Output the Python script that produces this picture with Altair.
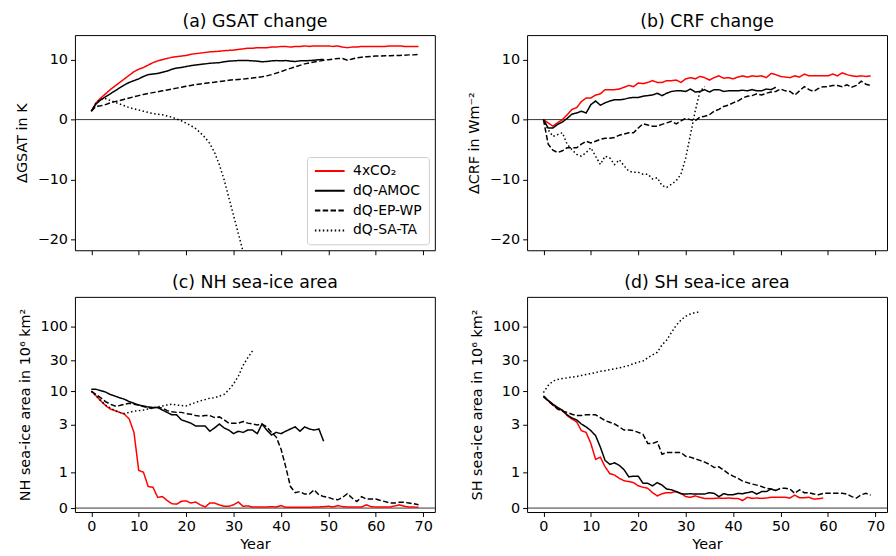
import math
import altair as alt
import pandas as pd

SERIES = ["4xCO₂", "dQ-AMOC", "dQ-EP-WP", "dQ-SA-TA"]

# ---------------- (a) GSAT change (K) ----------------
gsat_co2 = [1.4, 2.8, 3.6, 4.3, 5.0, 5.6, 6.2, 6.8, 7.4, 8.0, 8.4, 8.7, 9.1, 9.5, 9.8, 10.0, 10.2, 10.4, 10.5, 10.6,
            10.7, 10.9, 11.0, 11.1, 11.2, 11.3, 11.35, 11.4, 11.5, 11.55, 11.6, 11.7, 11.8, 11.9, 11.9, 12.0, 12.0, 12.0, 12.1, 12.1,
            12.2, 12.2, 12.1, 12.2, 12.2, 12.3, 12.2, 12.3, 12.3, 12.3, 12.3, 12.2, 12.3, 12.1, 12.0, 12.1, 12.1, 12.2, 12.2, 12.2,
            12.2, 12.2, 12.2, 12.3, 12.3, 12.3, 12.2, 12.2, 12.2, 12.2]
gsat_amoc = [1.4, 2.6, 3.3, 3.8, 4.3, 4.8, 5.3, 5.8, 6.2, 6.5, 6.8, 7.2, 7.5, 7.6, 7.7, 7.9, 8.1, 8.4, 8.6, 8.7,
             8.85, 9.0, 9.1, 9.2, 9.3, 9.4, 9.45, 9.5, 9.65, 9.75, 9.8, 9.85, 9.85, 9.85, 9.8, 9.75, 9.65, 9.7, 9.8, 9.85,
             9.8, 9.85, 9.75, 9.7, 9.8, 9.8, 9.85, 9.9, 10.0, 10.05]
gsat_epwp = [1.4, 2.2, 2.3, 2.5, 2.8, 3.0, 3.2, 3.4, 3.6, 3.8, 4.0, 4.2, 4.35, 4.5, 4.65, 4.8, 4.95, 5.1, 5.25, 5.4,
             5.55, 5.7, 5.85, 5.95, 6.05, 6.15, 6.25, 6.35, 6.45, 6.55, 6.65, 6.7, 6.75, 6.85, 6.95, 7.05, 7.15, 7.3, 7.5, 7.75,
             8.0, 8.3, 8.55, 8.8, 9.05, 9.3, 9.45, 9.6, 9.75, 9.9, 10.0, 10.1, 10.2, 10.2, 9.9, 10.1, 10.3, 10.4, 10.5, 10.55,
             10.6, 10.6, 10.65, 10.65, 10.7, 10.7, 10.75, 10.8, 10.8, 10.9]
gsat_sata = [1.4, 2.8, 3.4, 3.5, 3.2, 2.9, 2.6, 2.3, 2.0, 1.8, 1.6, 1.4, 1.2, 1.0, 0.9, 0.8, 0.6, 0.4, 0.1, -0.2,
             -0.6, -1.0, -1.5, -2.2, -3.0, -4.0, -5.5, -7.5, -10.0, -13.0, -16.0, -19.0, -22.0, -25.0, -28.0]

# ---------------- (b) CRF change (W m-2) ----------------
crf_co2 = [0.0, -0.55, -1.1, -0.5, 0.0, 0.8, 1.7, 2.0, 3.0, 3.6, 3.6, 4.1, 4.3, 5.0, 5.0, 5.0, 5.1, 5.4, 5.7, 5.5,
           6.1, 6.0, 6.2, 6.5, 6.2, 6.2, 6.5, 6.5, 6.6, 6.2, 6.8, 7.0, 6.8, 7.2, 7.0, 6.6, 7.0, 7.3, 6.9, 7.0,
           6.8, 7.1, 7.3, 7.1, 7.3, 7.2, 7.3, 7.0, 7.7, 7.5, 7.2, 7.1, 7.0, 7.3, 7.1, 7.6, 7.3, 7.3, 7.3, 7.3,
           7.3, 7.6, 7.3, 7.8, 7.5, 7.3, 7.2, 7.3, 7.2, 7.3]
crf_amoc = [0.0, -1.4, -1.4, -0.8, -0.4, 0.2, 0.9, 1.1, 1.4, 1.1, 2.5, 3.1, 2.4, 2.8, 3.1, 3.3, 3.3, 3.4, 3.6, 3.7,
            3.7, 3.9, 4.0, 4.1, 4.4, 4.0, 4.4, 4.7, 4.8, 4.8, 4.7, 5.1, 4.6, 4.7, 5.0, 4.6, 5.0, 5.0, 4.7, 4.8,
            4.8, 4.8, 4.9, 4.8, 5.0, 4.8, 4.8, 5.1, 5.0, 5.4]
crf_epwp = [0.0, -4.1, -5.1, -5.5, -5.2, -4.7, -4.7, -4.7, -4.1, -3.6, -3.9, -3.6, -3.3, -3.1, -3.1, -3.0, -2.6, -2.4, -2.2, -2.2,
            -1.4, -0.7, -0.9, -1.1, -1.1, -0.8, -0.55, -0.3, -0.7, -0.2, 0.2, 0.0, -0.2, 0.4, 0.55, 0.8, 1.4, 1.7, 2.2, 2.4,
            2.8, 3.1, 3.6, 3.9, 4.0, 4.3, 4.1, 4.4, 4.6, 4.7, 5.1, 4.8, 4.7, 4.1, 4.8, 5.5, 5.0, 4.7, 5.2, 5.5,
            5.5, 5.7, 5.7, 5.5, 5.8, 5.4, 5.7, 6.4, 5.9, 5.7]
crf_sata = [0.0, -1.7, -2.8, -2.5, -2.2, -4.1, -5.0, -5.8, -6.1, -5.5, -4.7, -6.1, -7.5, -6.1, -6.4, -7.5, -6.7, -7.7, -8.6, -8.8,
            -8.8, -9.1, -9.1, -9.9, -9.7, -11.0, -11.3, -10.8, -10.2, -9.1, -6.4, -2.5, 1.4, 4.7, 5.5]

# ---------------- (c) NH sea-ice area (10^6 km2) ----------------
nh_co2 = [10.0, 8.5, 7.1, 6.0, 5.3, 5.0, 4.7, 4.4, 3.7, 2.3, 1.05, 1.0, 0.6, 0.58, 0.3, 0.32, 0.21, 0.12, 0.11, 0.19,
          0.2, 0.14, 0.17, 0.09, 0.03, 0.14, 0.14, 0.09, 0.05, 0.05, 0.09, 0.17, 0.05, 0.06, 0.03, 0.03, 0.03, 0.03, 0.04, 0.03,
          0.07, 0.02, 0.02, 0.02, 0.02, 0.02, 0.02, 0.03, 0.03, 0.04, 0.05, 0.03, 0.07, 0.04, 0.03, 0.03, 0.03, 0.03, 0.09, 0.04,
          0.03, 0.03, 0.03, 0.03, 0.06, 0.09, 0.05, 0.03, 0.03, 0.02]
nh_amoc = [10.7, 10.7, 10.2, 9.7, 8.9, 8.4, 7.9, 7.5, 6.9, 6.5, 6.1, 5.9, 5.7, 5.6, 5.6, 5.1, 4.7, 4.3, 4.3, 3.6,
           3.4, 3.2, 2.9, 2.9, 2.9, 2.4, 2.7, 3.1, 2.7, 2.5, 2.2, 2.4, 2.3, 2.5, 2.5, 2.2, 3.1, 2.5, 2.1, 2.3,
           2.2, 2.4, 2.6, 2.8, 2.4, 2.8, 2.6, 2.5, 2.6, 1.86]
nh_epwp = [10.0, 8.9, 7.9, 6.9, 6.3, 5.9, 6.0, 6.3, 6.5, 6.3, 6.1, 5.8, 5.5, 5.5, 5.6, 5.5, 5.0, 4.8, 4.7, 4.7,
           4.5, 4.4, 4.2, 4.1, 4.2, 4.2, 3.9, 4.0, 3.6, 3.2, 3.2, 3.2, 3.4, 3.2, 3.1, 3.0, 3.1, 2.8, 2.3, 1.98,
           1.65, 1.15, 0.6, 0.43, 0.46, 0.39, 0.39, 0.51, 0.37, 0.32, 0.3, 0.25, 0.23, 0.3, 0.4, 0.28, 0.18, 0.32, 0.25, 0.25,
           0.25, 0.21, 0.18, 0.14, 0.14, 0.16, 0.16, 0.14, 0.12, 0.09]
nh_sata = [10.0, 8.5, 7.1, 6.1, 5.5, 5.0, 4.7, 4.5, 4.7, 4.9, 5.0, 5.1, 5.3, 5.5, 5.7, 5.9, 6.1, 6.3, 6.1, 6.0,
           5.9, 6.3, 6.7, 7.1, 7.4, 7.8, 7.9, 8.4, 8.9, 10.5, 13.0, 17.0, 25.0, 33.0, 42.0]

# ---------------- (d) SH sea-ice area (10^6 km2) ----------------
sh_co2 = [8.2, 7.1, 6.1, 5.4, 5.0, 4.2, 3.7, 3.35, 2.45, 2.3, 1.8, 1.36, 1.42, 1.15, 0.96, 0.92, 0.83, 0.76, 0.74, 0.71,
          0.62, 0.58, 0.55, 0.43, 0.34, 0.4, 0.43, 0.43, 0.46, 0.41, 0.32, 0.3, 0.34, 0.3, 0.27, 0.27, 0.27, 0.28, 0.27, 0.28,
          0.27, 0.27, 0.21, 0.3, 0.27, 0.28, 0.27, 0.28, 0.3, 0.3, 0.3, 0.3, 0.28, 0.36, 0.29, 0.29, 0.3, 0.25, 0.26, 0.28]
sh_amoc = [8.5, 7.2, 6.3, 5.6, 5.1, 4.3, 3.85, 3.6, 3.1, 2.8, 2.45, 2.05, 1.7, 1.33, 1.22, 1.26, 1.19, 1.07, 0.87, 0.89,
           0.89, 0.69, 0.69, 0.62, 0.71, 0.64, 0.53, 0.51, 0.46, 0.40, 0.39, 0.40, 0.39, 0.39, 0.39, 0.43, 0.41, 0.32, 0.40, 0.37,
           0.37, 0.41, 0.40, 0.43, 0.46, 0.39, 0.46, 0.46, 0.53, 0.49]
sh_epwp = [8.2, 7.1, 6.1, 5.3, 4.9, 4.7, 4.4, 4.2, 4.2, 4.3, 4.3, 4.3, 3.9, 3.5, 3.3, 3.1, 2.8, 2.5, 2.5, 2.45,
           2.3, 2.15, 1.8, 1.8, 1.85, 1.5, 1.55, 1.55, 1.55, 1.55, 1.44, 1.42, 1.37, 1.33, 1.28, 1.22, 1.13, 1.15, 1.06, 0.96,
           0.89, 0.83, 0.75, 0.71, 0.67, 0.64, 0.60, 0.55, 0.53, 0.49, 0.55, 0.55, 0.53, 0.41, 0.51, 0.43, 0.43, 0.39, 0.37, 0.41,
           0.41, 0.41, 0.41, 0.41, 0.39, 0.32, 0.28, 0.37, 0.41, 0.36]
sh_sata = [9.5, 12.3, 14.3, 15.2, 15.7, 16.1, 16.5, 16.9, 17.5, 18.1, 18.7, 19.4, 20.3, 20.8, 21.6, 22.3, 22.9, 24.0, 25.0, 26.7,
           28.3, 29.3, 33.0, 36.5, 40.0, 52.0, 62.0, 81.0, 105.0, 126.0, 145.0, 157.0, 165.0, 169.0]

x_ticks = [0, 10, 20, 30, 40, 50, 60, 70]
lin_ticks = [-20, -10, 0, 10]
ice_ticks = [0, 1, 3, 10, 30, 100]


def frame(*arrays):
    rows = []
    for name, arr in zip(SERIES, arrays):
        for yr, v in enumerate(arr):
            rows.append({"year": yr, "value": v, "series": name})
    return pd.DataFrame(rows)


# symmetric-log transform (linear below 2, log10 above), as in the reference axes
LIN = 2.0
LADJ = 1.0 / (1.0 - 0.1)


def symlog(v):
    return v * LADJ if v <= LIN else LIN * (LADJ + math.log10(v / LIN))


SYMLOG_EXPR = f"datum.value <= {LIN} ? datum.value*{LADJ} : {LIN}*({LADJ} + log(datum.value/{LIN})/LN10)"
INV_EXPR = (f"format(datum.value <= {LIN * LADJ + 1e-6} ? datum.value/{LADJ} : "
            f"{LIN}*pow(10, datum.value/{LIN} - {LADJ}), '.0f')")

color_scale = alt.Scale(domain=SERIES, range=["#ff0000", "#000000", "#000000", "#000000"])
dash_scale = alt.Scale(domain=SERIES, range=[[1, 0], [1, 0], [5.5, 2.4], [1.5, 2.5]])

W, H = 363, 217
FONT = "DejaVu Sans"


def panel(df, title, ytitle, legend, bottom, ice):
    base = alt.Chart(df)
    if ice:
        base = base.transform_calculate(t=SYMLOG_EXPR)
        yfield = "t:Q"
        ydom = [-0.1225, 6.542]
        yaxis = alt.Axis(values=[symlog(v) for v in ice_ticks], labelExpr=INV_EXPR, title=ytitle)
    else:
        yfield = "value:Q"
        ydom = [-21.8, 14.1]
        yaxis = alt.Axis(values=lin_ticks, title=ytitle)
    xaxis = alt.Axis(values=x_ticks, labels=bottom, title="Year" if bottom else None, titlePadding=5)
    lines = base.mark_line(strokeWidth=1.5, clip=True).encode(
        x=alt.X("year:Q", scale=alt.Scale(domain=[-3.45, 72.45], nice=False, zero=False), axis=xaxis),
        y=alt.Y(yfield, scale=alt.Scale(domain=ydom, nice=False, zero=False), axis=yaxis),
        color=alt.Color("series:N", scale=color_scale, legend=legend),
        strokeDash=alt.StrokeDash("series:N", scale=dash_scale, legend=legend),
    )
    zero = alt.Chart(pd.DataFrame({"z": [0]})).mark_rule(color="black", strokeWidth=0.8).encode(y="z:Q")
    return alt.layer(zero, lines).properties(
        width=W, height=H, title=alt.TitleParams(title, fontSize=17.5, font=FONT, fontWeight="normal", offset=5)
    )


legend_a = alt.Legend(orient="bottom-right", title=None, symbolType="M-3,0H3", symbolSize=100, symbolStrokeWidth=2,
                      symbolOffset=9, labelFontSize=14, labelFont=FONT, fillColor="rgba(255,255,255,0.8)",
                      strokeColor="#cccccc", padding=7, cornerRadius=3, offset=6, rowPadding=6, labelOffset=16.5,
                      labelColor="black")

pa = panel(frame(gsat_co2, gsat_amoc, gsat_epwp, gsat_sata), "(a) GSAT change", "ΔGSAT in K", legend_a, False, False)
pb = panel(frame(crf_co2, crf_amoc, crf_epwp, crf_sata), "(b) CRF change", "ΔCRF in Wm⁻²", None, False, False)
pc = panel(frame(nh_co2, nh_amoc, nh_epwp, nh_sata), "(c) NH sea-ice area", "NH sea-ice area in 10⁶ km²", None, True, True)
pd_ = panel(frame(sh_co2, sh_amoc, sh_epwp, sh_sata), "(d) SH sea-ice area", "SH sea-ice area in 10⁶ km²", None, True, True)

chart = alt.concat(pa, pb, pc, pd_, columns=2, spacing={"row": 18, "column": 30}).resolve_scale(
    color="independent", strokeDash="independent"
).resolve_legend(
    color="independent", strokeDash="independent"
).properties(
    padding={"left": 5.5, "top": 2, "right": 0, "bottom": 0}
).configure_view(
    stroke="black", strokeWidth=1
).configure_axis(
    labelFont=FONT, titleFont=FONT, labelFontSize=14.5, titleFontSize=14.5, labelColor="black", titleColor="black",
    tickColor="black", tickWidth=1, tickSize=4.5, labelPadding=3, titlePadding=8, domain=False, grid=False,
    titleFontWeight="normal"
).configure_title(color="black")

chart.save("out.html", embed_options={"renderer": "svg", "actions": False})
